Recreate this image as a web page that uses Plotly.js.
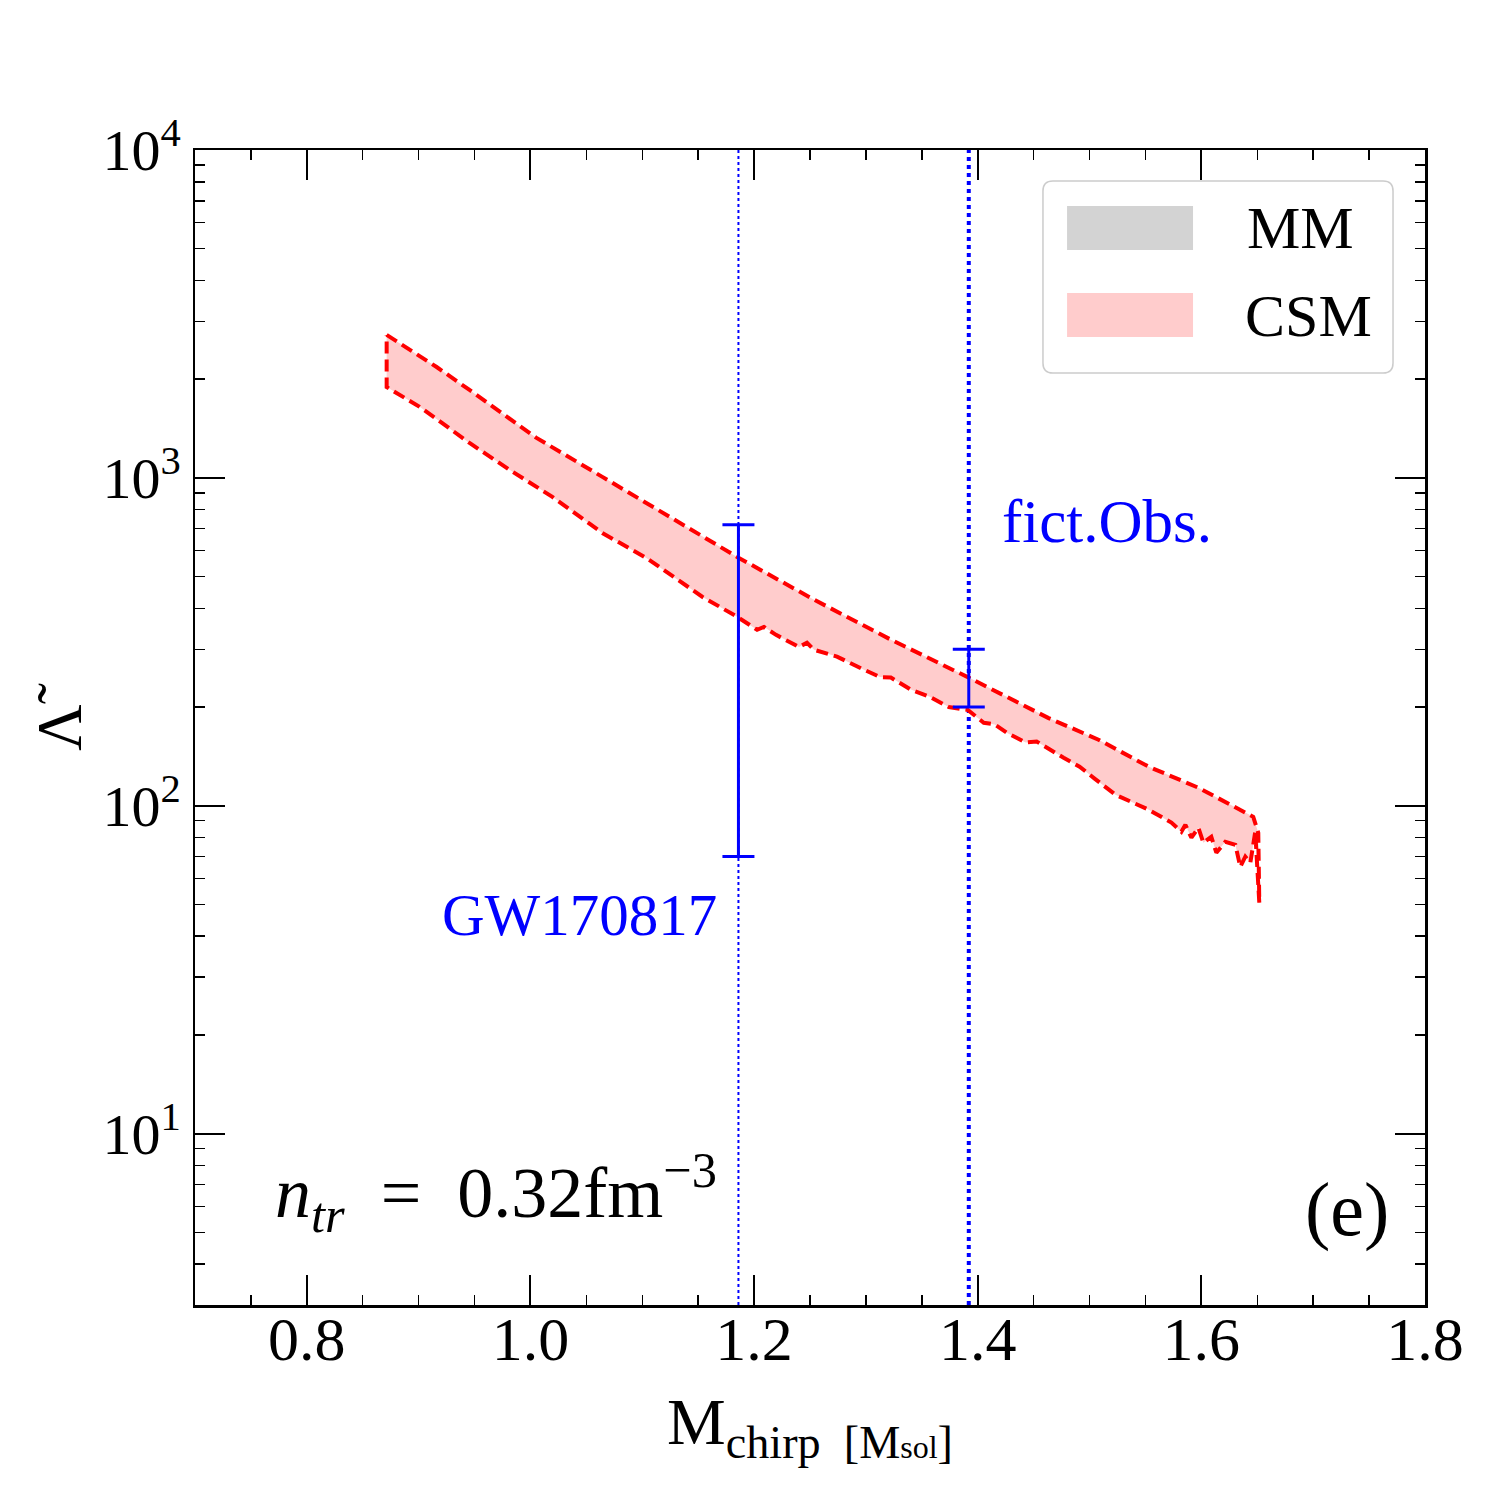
<!DOCTYPE html>
<html>
<head>
<meta charset="utf-8">
<script src="https://cdn.plot.ly/plotly-3.0.1.min.js"></script>
<style>html,body{margin:0;padding:0;background:#fff;}#plot{width:1500px;height:1500px;}</style>
</head>
<body>
<div id="plot"></div>
<script>
// CSM band: upper boundary (left to right, including the final drop)
const upperX = [0.8714, 0.9161, 0.9455, 1.0054, 1.0643, 1.1241, 1.1848, 1.2536, 1.3223, 1.3929, 1.4634, 1.5080, 1.5527, 1.5973, 1.6268, 1.6464, 1.6509, 1.6518];
const upperY = [2729, 2178, 1854, 1324, 1007, 760, 574, 425, 321, 245, 185, 159, 131.6, 113.5, 100.7, 92.5, 82.7, 50.6];
// CSM band: lower boundary (left to right)
const lowerX = [0.8714, 0.9009, 0.9455, 0.9813, 1.0196, 1.0643, 1.1036, 1.1536, 1.1848, 1.2027, 1.2089, 1.2196, 1.2402, 1.2473, 1.2536, 1.2741, 1.2982, 1.3125, 1.3223, 1.3402, 1.3571, 1.3741, 1.3911, 1.4054, 1.4152, 1.4259, 1.4429, 1.4527, 1.4768, 1.4911, 1.5045, 1.5232, 1.5527, 1.5732, 1.5821, 1.5857, 1.5911, 1.5973, 1.6018, 1.6089, 1.6134, 1.6214, 1.6304, 1.6348, 1.6393, 1.6438, 1.6464, 1.6482];
const lowerY = [1892, 1647, 1278, 1058, 875, 679, 570, 434, 377, 344, 351, 332, 305, 314, 299, 285, 260, 247, 246, 226, 215, 200, 196, 179, 177, 167, 156, 157, 140, 131.5, 121, 108, 97.3, 88.8, 83.3, 87.5, 79.9, 85.7, 77.1, 80.4, 71.9, 77.6, 76.0, 65.1, 69.9, 67.0, 77.1, 83.3];

// Observations
const obsNames = ["GW170817", "fict.Obs."];
const obsX = [1.186, 1.392];
const obsY = [300, 250];
const obsPlus = [420, 50];
const obsMinus = [230, 50];

// Ticks / legend labels
const xTickVals = [0.8, 1.0, 1.2, 1.4, 1.6, 1.8];
const xTickText = ["0.8", "1.0", "1.2", "1.4", "1.6", "1.8"];
const yTickVals = [10, 100, 1000, 10000];
const yTickExp = ["1", "2", "3", "4"];
const legendNames = ["MM", "CSM"];
const legendColors = ["#d3d3d3", "#ffcccc"];

const FONT = "'Liberation Serif', 'DejaVu Serif', serif";

const bandX = upperX.concat(lowerX.slice().reverse(), [upperX[0]]);
const bandY = upperY.concat(lowerY.slice().reverse(), [upperY[0]]);

const traces = [
  {
    type: "scatter", mode: "lines", name: "CSM",
    x: bandX, y: bandY,
    fill: "toself", fillcolor: legendColors[1],
    line: {color: "#ff0000", width: 4, dash: "12px,6px"},
    showlegend: false, hoverinfo: "skip"
  },
  {
    type: "scatter", mode: "markers", name: obsNames[0],
    x: [obsX[0]], y: [obsY[0]],
    marker: {size: 1, opacity: 0, color: "#0000ff"},
    error_y: {type: "data", array: [obsPlus[0]], arrayminus: [obsMinus[0]], color: "#0000ff", thickness: 3, width: 16},
    showlegend: false
  },
  {
    type: "scatter", mode: "markers", name: obsNames[1],
    x: [obsX[1]], y: [obsY[1]],
    marker: {size: 1, opacity: 0, color: "#0000ff"},
    error_y: {type: "data", array: [obsPlus[1]], arrayminus: [obsMinus[1]], color: "#0000ff", thickness: 3, width: 16},
    showlegend: false
  }
];

function roundRect(x0, y0, x1, y1, rx, ry) {
  return `M${x0+rx},${y0} L${x1-rx},${y0} Q${x1},${y0} ${x1},${y0+ry} L${x1},${y1-ry} Q${x1},${y1} ${x1-rx},${y1} L${x0+rx},${y1} Q${x0},${y1} ${x0},${y1-ry} L${x0},${y0+ry} Q${x0},${y0} ${x0+rx},${y0} Z`;
}

const shapes = [
  {type: "line", xref: "x", yref: "paper", x0: obsX[0], x1: obsX[0], y0: 0, y1: 1,
   line: {color: "#0000ff", width: 2, dash: "dot"}, layer: "below"},
  {type: "line", xref: "x", yref: "paper", x0: obsX[1], x1: obsX[1], y0: 0, y1: 1,
   line: {color: "#0000ff", width: 4, dash: "dot"}, layer: "below"},
  {type: "path", xref: "paper", yref: "paper", path: roundRect(0.6894, 0.8069, 0.974, 0.9732, 0.008, 0.0087),
   fillcolor: "rgba(255,255,255,0.9)", line: {color: "#cccccc", width: 1.5}},
  {type: "rect", xref: "paper", yref: "paper", x0: 0.709, x1: 0.8114, y0: 0.9134, y1: 0.9515,
   fillcolor: legendColors[0], line: {width: 0}},
  {type: "rect", xref: "paper", yref: "paper", x0: 0.709, x1: 0.8114, y0: 0.8381, y1: 0.8762,
   fillcolor: legendColors[1], line: {width: 0}}
];

const annotations = [
  {xref: "paper", yref: "paper", x: 0.8537, y: 0.9325, xanchor: "left", yanchor: "middle", showarrow: false,
   text: legendNames[0], font: {family: FONT, size: 60, color: "#000"}},
  {xref: "paper", yref: "paper", x: 0.852, y: 0.8563, xanchor: "left", yanchor: "middle", showarrow: false,
   text: legendNames[1], font: {family: FONT, size: 60, color: "#000"}},
  {xref: "paper", yref: "paper", x: 0.313, y: 0.3377, xanchor: "center", yanchor: "middle", showarrow: false,
   text: obsNames[0], font: {family: FONT, size: 59, color: "#0000ff"}},
  {xref: "paper", yref: "paper", x: 0.6545, y: 0.678, xanchor: "left", yanchor: "middle", showarrow: false,
   text: obsNames[1], font: {family: FONT, size: 61, color: "#0000ff"}},
  {xref: "paper", yref: "paper", x: 0.0634, y: 0.097, xanchor: "left", yanchor: "middle", showarrow: false,
   text: "<i>n</i><sub><i>tr</i></sub>&nbsp;&nbsp;=&nbsp;&nbsp;0.32fm<sup>−3</sup>", font: {family: FONT, size: 72, color: "#000"}},
  {xref: "paper", yref: "paper", x: 0.9366, y: 0.0823, xanchor: "center", yanchor: "middle", showarrow: false,
   text: "(e)", font: {family: FONT, size: 76, color: "#000"}}
];

const axisCommon = {
  showline: true, linecolor: "#000", linewidth: 2.5, mirror: "allticks",
  ticks: "inside", ticklen: 30, tickwidth: 2, tickcolor: "#000",
  showgrid: false, zeroline: false
};

const layout = {
  width: 1500, height: 1500,
  margin: {l: 195, r: 75, t: 150, b: 195},
  paper_bgcolor: "#fff", plot_bgcolor: "#fff",
  showlegend: false,
  xaxis: Object.assign({}, axisCommon, {
    range: [0.7, 1.8], tickvals: xTickVals, ticktext: xTickText,
    tickfont: {family: FONT, size: 62, color: "#000"},
    ticklabelstandoff: -22,
    minor: {dtick: 0.05, tick0: 0, ticks: "inside", ticklen: 10, tickwidth: 1.5, tickcolor: "#000", showgrid: false},
    title: {text: "M<sub>chirp  [M<span style='font-size:32px'>sol</span>]</sub>", font: {family: FONT, size: 66, color: "#000"}, standoff: 26}
  }),
  yaxis: Object.assign({}, axisCommon, {
    type: "log", range: [Math.log10(3), 4],
    tickvals: yTickVals,
    ticktext: yTickExp.map(e => "10<sup>" + e + "</sup>"),
    tickfont: {family: FONT, size: 58, color: "#000"},
    minor: {dtick: "D1", ticks: "inside", ticklen: 10, tickwidth: 1.5, tickcolor: "#000", showgrid: false},
    title: {text: "Λ̃", font: {family: FONT, size: 64, color: "#000"}, standoff: 0}
  }),
  shapes: shapes,
  annotations: annotations
};

Plotly.newPlot("plot", traces, layout, {staticPlot: true});
</script>
</body>
</html>
